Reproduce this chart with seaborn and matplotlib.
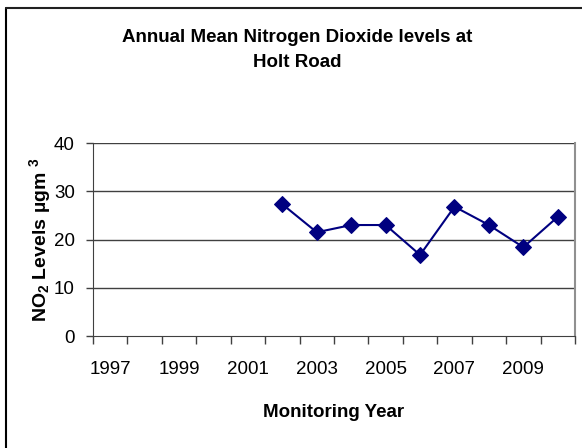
import numpy as np
import pandas as pd
import matplotlib.pyplot as plt
import matplotlib as mpl
import seaborn as sns

sns.set_style("white")
mpl.rcParams['font.family'] = ['Liberation Sans', 'DejaVu Sans']
mpl.rcParams['mathtext.default'] = 'regular'
mpl.rcParams['text.color'] = 'black'
mpl.rcParams['axes.labelcolor'] = 'black'
mpl.rcParams['xtick.color'] = 'black'
mpl.rcParams['ytick.color'] = 'black'

# data
years = [2002, 2003, 2004, 2005, 2006, 2007, 2008, 2009, 2010]
no2 = [27.3, 21.5, 23.0, 23.0, 16.8, 26.8, 23.0, 18.4, 24.7]
label_years = [1997, 1999, 2001, 2003, 2005, 2007, 2009]
y_ticks = [0, 10, 20, 30, 40]

df = pd.DataFrame({"Year": years, "NO2": no2})

W, H = 582, 448
fig = plt.figure(figsize=(W / 100, H / 100), dpi=100)
ax = fig.add_axes([93 / W, 1 - 336 / H, (575 - 93) / W, (336 - 143) / H])

sns.lineplot(data=df, x="Year", y="NO2", ax=ax, color="#000080", linewidth=1.5,
             marker="D", markersize=8, markeredgecolor="#000080")

ax.set_xlim(1996.5, 2010.5)
ax.set_ylim(0, 40)
ax.set_yticks(y_ticks)
ax.set_yticklabels([str(v) for v in y_ticks], fontsize=13.5)
ax.tick_params(axis='y', length=5, width=1, color='#404040', pad=8, left=True)
for v in y_ticks[1:]:
    ax.axhline(v, color='#404040', linewidth=1, zorder=0)

# category axis: ticks between years, labels centred on years
ax.set_xticks(np.arange(1996.5, 2011, 1.0))
ax.set_xticklabels([])
ax.tick_params(axis='x', which='major', length=6, width=1, color='#404040',
               direction='out', bottom=True)
ax.set_xticks(label_years, minor=True)
ax.set_xticklabels([str(y) for y in label_years], minor=True, fontsize=13.5)
ax.tick_params(axis='x', which='minor', length=0, pad=18)

ax.spines['top'].set_visible(False)
ax.spines['left'].set_color('#404040')
ax.spines['bottom'].set_color('#404040')
ax.spines['right'].set_color('#909090')
ax.spines['right'].set_linewidth(1.5)

ax.set_xlabel("Monitoring Year", fontsize=13.5, fontweight='bold', labelpad=19)
ax.set_ylabel("NO$_2$ Levels µgm $^3$", fontsize=14, fontweight='bold', labelpad=1)

fig.text(297 / W, 1 - 50 / H, "Annual Mean Nitrogen Dioxide levels at\nHolt Road",
         ha='center', va='center', fontsize=13.5, fontweight='bold', linespacing=1.6)

# outer chart frame (left and top edges visible)
fig.add_artist(mpl.lines.Line2D([6 / W, 6 / W], [0, 1 - 8 / H], color='black', linewidth=1.5))
fig.add_artist(mpl.lines.Line2D([6 / W, 1], [1 - 8 / H, 1 - 8 / H], color='#202020', linewidth=1.5))

fig.savefig("out.png", dpi=100)
